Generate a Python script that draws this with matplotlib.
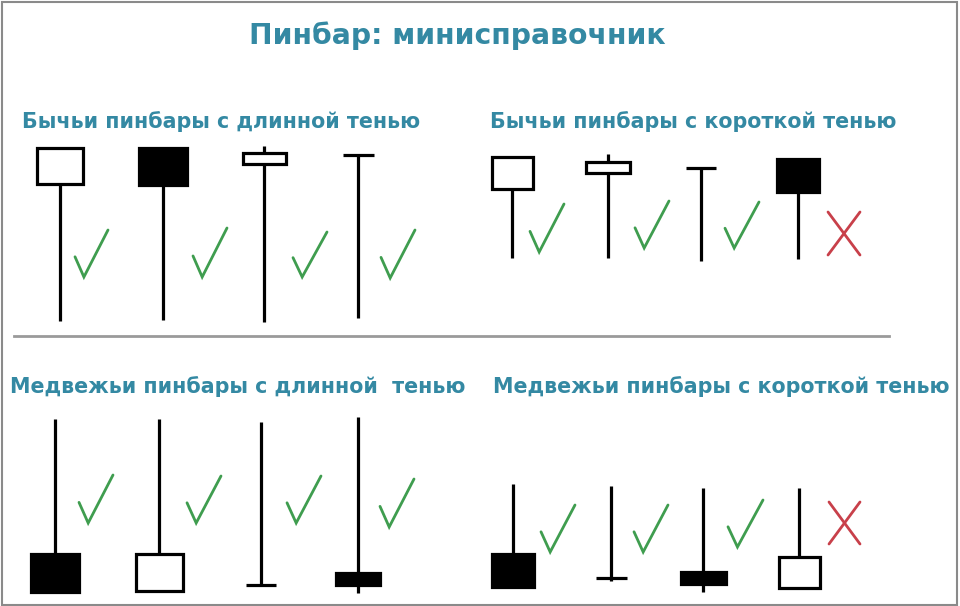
import matplotlib.pyplot as plt
from matplotlib.patches import Rectangle

# screen-style units: y grows downward (axis is inverted), so "high" is the smaller number
TITLE = "Пинбар: минисправочник"

PANEL_TITLES = [
    "Бычьи пинбары с длинной тенью",
    "Бычьи пинбары с короткой тенью",
    "Медвежьи пинбары с длинной  тенью",
    "Медвежьи пинбары с короткой тенью",
]

# candle values per panel: high, low, body top, body bottom, filled body
HIGH = [
    [148, 148, 146, 155],
    [157, 154, 168, 159],
    [419, 419, 422, 417],
    [484, 486, 488, 488],
]
LOW = [
    [321, 320, 322, 318],
    [258, 258, 261, 259],
    [592, 591, 585, 593],
    [587, 581, 592, 588],
]
BODY_TOP = [
    [148, 148, 153, 155],
    [157, 162, 168, 159],
    [554, 554, 585, 573],
    [554, 578, 572, 557],
]
BODY_BOTTOM = [
    [184, 185, 164, 155],
    [189, 173, 168, 192],
    [592, 591, 585, 585],
    [587, 578, 584, 588],
]
FILLED = [
    [False, True, False, False],
    [False, False, False, True],
    [True, False, False, True],
    [True, False, True, False],
]
VERDICT = [
    ["ok", "ok", "ok", "ok"],
    ["ok", "ok", "ok", "bad"],
    ["ok", "ok", "ok", "ok"],
    ["ok", "ok", "ok", "bad"],
]

# layout
CANDLE_X = [
    [60, 163, 264, 358],
    [512, 608, 701, 798],
    [55, 159, 261, 358],
    [513, 611, 703, 799],
]
BODY_W = [
    [46, 48, 43, 31],
    [41, 44, 30, 42],
    [48, 47, 30, 44],
    [42, 31, 45, 41],
]
# mark boxes: left, top, right, bottom
MARK_BOX = [
    [(75, 230, 108, 277), (193, 228, 227, 277), (293, 232, 327, 277), (381, 230, 415, 278)],
    [(530, 204, 564, 252), (635, 201, 669, 248), (725, 202, 759, 248), (828, 212, 860, 255)],
    [(79, 475, 113, 523), (187, 476, 221, 523), (287, 476, 321, 523), (380, 479, 414, 527)],
    [(541, 505, 575, 552), (634, 505, 668, 552), (728, 500, 763, 547), (829, 502, 860, 544)],
]
PANEL_TEXT_POS = [(22, 128), (490, 128), (10, 393), (493, 393)]

TEAL = "#3489a3"
GREEN = "#3f9d4f"
RED = "#c8404a"
LW = 2.3


def draw_candle(ax, x, high, low, top, bottom, width, filled):
    if bottom - top < 1:
        # no body: cross bar
        ax.plot([x, x], [high, low], color="black", lw=LW, solid_capstyle="butt")
        ax.plot([x - width / 2, x + width / 2], [top, top], color="black", lw=LW,
                solid_capstyle="butt")
        return
    if top > high:
        ax.plot([x, x], [high, top], color="black", lw=LW, solid_capstyle="butt")
    if low > bottom:
        ax.plot([x, x], [bottom, low], color="black", lw=LW, solid_capstyle="butt")
    ax.add_patch(Rectangle((x - width / 2, top), width, bottom - top,
                           facecolor="black" if filled else "white",
                           edgecolor="black", lw=LW, joinstyle="miter", zorder=3))


def draw_mark(ax, box, kind):
    x0, y0, x1, y1 = box
    w, h = x1 - x0, y1 - y0
    if kind == "ok":
        ax.plot([x0, x0 + 0.27 * w, x1], [y0 + 0.57 * h, y1, y0],
                color=GREEN, lw=2.0, solid_joinstyle="miter", solid_capstyle="round")
    else:
        ax.plot([x0, x1], [y0, y1], color=RED, lw=2.0, solid_capstyle="round")
        ax.plot([x0, x1], [y1, y0], color=RED, lw=2.0, solid_capstyle="round")


def main() -> None:
    fig = plt.figure(figsize=(9.6, 6.06), dpi=100)
    ax = fig.add_axes([0, 0, 1, 1])
    ax.set_xlim(0, 960)
    ax.set_ylim(606, 0)
    ax.axis("off")

    ax.add_patch(Rectangle((1.5, 1.5), 955.5, 603, fill=False, edgecolor="#8a8a8a", lw=1.5))
    ax.plot([14, 889], [336, 336], color="#9a9a9a", lw=2)

    ax.text(457, 44, TITLE, ha="center", va="baseline", fontsize=20.3,
            fontweight="bold", color=TEAL)

    for p, name in enumerate(PANEL_TITLES):
        tx, ty = PANEL_TEXT_POS[p]
        ax.text(tx, ty, name, ha="left", va="baseline", fontsize=14.9,
                fontweight="bold", color=TEAL)
        for i in range(len(CANDLE_X[p])):
            draw_candle(ax, CANDLE_X[p][i], HIGH[p][i], LOW[p][i], BODY_TOP[p][i],
                        BODY_BOTTOM[p][i], BODY_W[p][i], FILLED[p][i])
            draw_mark(ax, MARK_BOX[p][i], VERDICT[p][i])

    fig.savefig("out.png", dpi=100, facecolor="white")
    plt.close(fig)


if __name__ == "__main__":
    main()
